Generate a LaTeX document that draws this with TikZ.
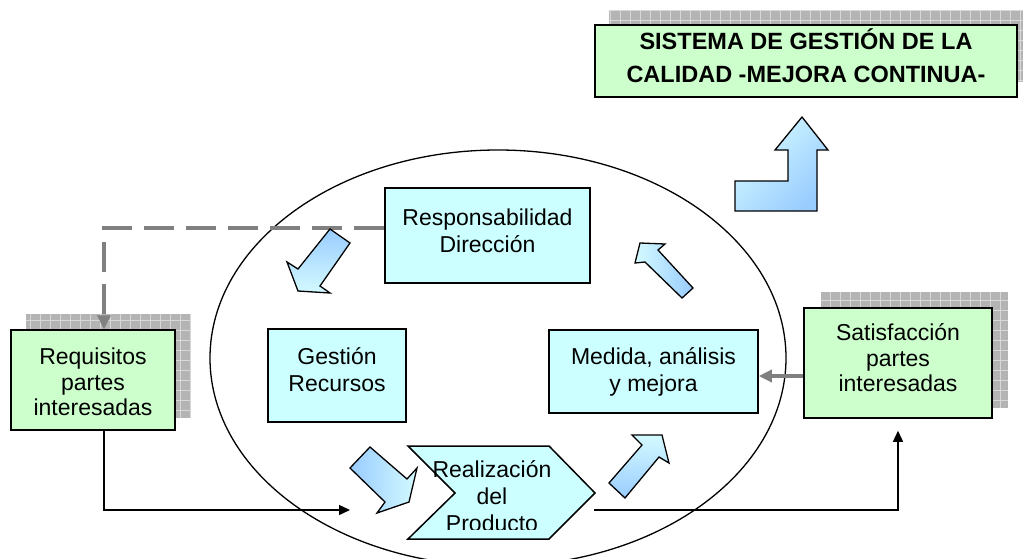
\documentclass[tikz,border=0pt]{standalone}
\usepackage{fontspec}
\setmainfont{Liberation Sans}
\usetikzlibrary{arrows.meta,shapes.geometric}
\definecolor{cyanbox}{HTML}{CCFFFF}
\definecolor{greenbox}{HTML}{CCFFCC}
\definecolor{arrlight}{HTML}{D4FAFF}
\definecolor{arrdark}{HTML}{99CCFF}
\definecolor{shadowgray}{HTML}{B4B4B4}
\definecolor{gridgray}{HTML}{D8D8D8}
\definecolor{linegray}{HTML}{808080}
\newcommand\gridshadow[2]{\fill[shadowgray] #1 rectangle #2; \draw[gridgray, line width=0.6pt, step=10pt] #1 grid #2;}
\begin{document}
\begin{tikzpicture}[x=1pt,y=-1pt,
  boxc/.style={draw=black, line width=1.5pt, fill=cyanbox, inner sep=0pt},
  boxg/.style={draw=black, line width=1.5pt, fill=greenbox, inner sep=0pt},
  txt/.style={align=center, inner sep=0pt, font=\fontsize{23}{25.5}\selectfont},
  blockarrow/.style={draw=black, line width=1.3pt, line join=miter},
  grayline/.style={draw=linegray, line width=3.3pt},
  blackline/.style={draw=black, line width=1.3pt, -{Triangle[length=11pt,width=10pt]}},
]
\useasboundingbox (0,0) rectangle (1023,558);
\fill[white] (0,0) rectangle (1023,558);

% big ellipse
\node[draw=black, line width=1.3pt, ellipse, minimum width=576, minimum height=416, inner sep=0pt] (cycle) at (498,358) {};

% shadows
\gridshadow{(609,10)}{(1032,82)}
\gridshadow{(26,314)}{(190,418)}
\gridshadow{(821,292)}{(1008,408)}

% boxes
\node[boxg, minimum width=422, minimum height=72] (top) at (806,61) {};
\node[txt, font=\bfseries\fontsize{23.5}{33}\selectfont] (toptext) at (806,56) {SISTEMA DE GESTIÓN DE LA\\CALIDAD -MEJORA CONTINUA-};

\node[boxc, minimum width=205, minimum height=95] (resp) at (487.5,235.5) {};
\node[txt, font=\fontsize{23}{27}\selectfont] (resptext) at (487.5,230.5) {Responsabilidad\\Dirección};

\node[boxc, minimum width=138, minimum height=93] (ges) at (337,375.5) {};
\node[txt, font=\fontsize{23}{27}\selectfont] (gestext) at (337,370) {Gestión\\Recursos};

\node[boxc, minimum width=209, minimum height=83] (med) at (653.5,371.5) {};
\node[txt, font=\fontsize{23}{27}\selectfont] (medtext) at (653.5,371.5) {Medida, análisis\\y mejora};

\node[boxg, minimum width=164, minimum height=100] (req) at (93,380) {};
\node[txt] (reqtext) at (93,382) {Requisitos\\partes\\interesadas};

\node[boxg, minimum width=188, minimum height=110] (sat) at (898,363) {};
\node[txt] (sattext) at (898,358) {Satisfacción\\partes\\interesadas};

% Realizacion chevron
\draw[draw=black, line width=1.5pt, fill=cyanbox, line join=miter] (408,446) -- (549,446) -- (595,493) -- (549,539) -- (408,539) -- (455,493) -- cycle;
\begin{scope}
  \clip (400,440) rectangle (600,529.5);
  \node[txt, font=\fontsize{23}{27}\selectfont] (real) at (492,496.5) {Realización\\del\\Producto};
\end{scope}

% dashed connector
\draw[grayline, dash pattern=on 30pt off 12pt, -{Triangle[length=14pt,width=13pt]}] ([yshift=7.5pt]resp.west) -| ([xshift=11pt]req.north);

% block arrows
\draw[blockarrow, top color=arrdark, bottom color=arrlight] (330,229) -- (350,243) -- (320,286) -- (330,293) -- (298,291) -- (287,262) -- (298,269) -- cycle;
\draw[blockarrow, left color=arrlight, right color=arrdark] (640,243) -- (665,244) -- (658,250) -- (693,288) -- (682,298) -- (645,262) -- (635,263) -- cycle;
\draw[blockarrow, left color=arrdark, right color=arrlight] (370,447) -- (407,479) -- (417,468) -- (409,502) -- (377,513) -- (385,502) -- (350,468) -- cycle;
\draw[blockarrow, top color=arrlight, bottom color=arrdark] (609,483) -- (642,445) -- (632,435) -- (662,435) -- (669,463) -- (659,457) -- (625,498) -- cycle;
\draw[blockarrow, top color=arrlight, bottom color=arrdark, shading angle=45] (735,211) -- (817,211) -- (817,150) -- (828,150) -- (802,117) -- (775,150) -- (788,150) -- (788,181) -- (735,181) -- cycle;

% black connectors
\coordinate (c1) at (350,510);
\coordinate (c2) at (594,510);
\draw[blackline] ([xshift=11pt]req.south) |- (c1);
\draw[blackline, shorten >=12pt] (c2) -| (sat.south);

% gray connector
\draw[grayline, -{Triangle[length=13pt,width=12pt]}] ([yshift=-13pt]sat.west) -- ([yshift=-4.5pt]med.east);
\end{tikzpicture}
\end{document}
